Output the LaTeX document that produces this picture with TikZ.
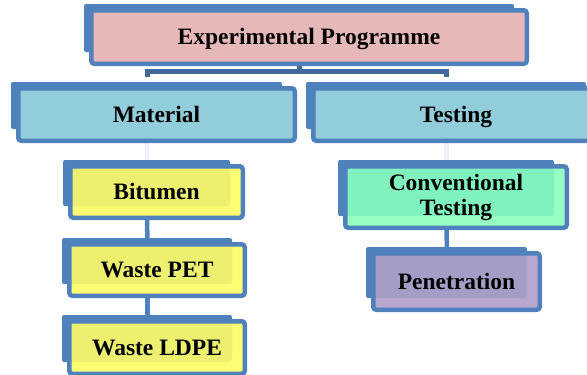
\documentclass[tikz,border=0pt]{standalone}
\usepackage{fontspec}
\setmainfont{Liberation Serif}
\usetikzlibrary{backgrounds}

\definecolor{cardblue}{HTML}{4F81BD}
\definecolor{barblue}{HTML}{41699B}
\definecolor{pinkfill}{HTML}{E6B8B7}
\definecolor{bluefill}{HTML}{92CDDC}
\definecolor{yellowfill}{HTML}{ECF06E}
\definecolor{yellowlight}{HTML}{FDFD74}
\definecolor{greenfill}{HTML}{80F2BE}
\definecolor{greenlight}{HTML}{98FFC2}
\definecolor{purplefill}{HTML}{A69DC6}
\definecolor{purplelight}{HTML}{B9A9CF}

\newcommand{\cardfont}{\fontsize{23.5}{25}\selectfont\bfseries}

\tikzstyle{card}=[rectangle,draw=cardblue,line width=4.5pt,rounded corners=3pt,inner sep=0pt,align=center,font=\cardfont]
\tikzstyle{oneline}=[text height=15.5pt,text depth=0pt]
\tikzstyle{link}=[line width=4.5pt,draw=cardblue]
\tikzstyle{bar}=[line width=5pt,draw=barblue]
\tikzset{tinted/.style={path picture={\fill[#1] (path picture bounding box.north west) rectangle ([shift={(-12.75pt,11.75pt)}]path picture bounding box.south east);}}}

\begin{document}
\begin{tikzpicture}[x=1pt,y=-1pt]
	\useasboundingbox (0,0) rectangle (587,375);

	% Boxes
	\node[card,oneline,fill=pinkfill,minimum width=435.5pt,minimum height=53.5pt] (prog) at (309,37) {Experimental Programme};

	\node[card,oneline,fill=bluefill,minimum width=276.5pt,minimum height=52.5pt] (mat) at (156.5,114.5) {Material};
	\node[card,oneline,fill=bluefill,minimum width=285.5pt,minimum height=52.5pt] (test) at (456,114.5) {Testing};

	\node[card,oneline,fill=yellowlight,tinted=yellowfill,minimum width=172.5pt,minimum height=51.5pt] (bit) at (156.5,192) {Bitumen};
	\node[card,oneline,fill=yellowlight,tinted=yellowfill,minimum width=175.5pt,minimum height=51.5pt] (pet) at (157,270) {Waste PET};
	\node[card,oneline,fill=yellowlight,tinted=yellowfill,minimum width=175.5pt,minimum height=52.5pt] (ldpe) at (157,347.5) {Waste LDPE};

	\node[card,fill=greenlight,tinted=greenfill,minimum width=221.5pt,minimum height=61.5pt] (conv) at (456,197) {Conventional\\Testing};
	\node[card,oneline,fill=purplelight,tinted=purplefill,minimum width=166.5pt,minimum height=56.5pt] (pen) at (456.5,281.5) {Penetration};

	\begin{scope}[on background layer]
		% Links
		\coordinate (matin) at (147,77);
		\coordinate (testin) at (446.5,77);
		\draw[bar] ([xshift=-9.5pt]prog.south) -- ++(0,5) coordinate (barmid);
		\draw[bar] (matin) |- (barmid) -| (testin);

		\draw[link,draw=cardblue!10] ([xshift=-9.5pt]mat.south) -- ([xshift=-9.5pt]bit.north);
		\draw[link,draw=cardblue!10] ([xshift=-9.5pt]test.south) -- ([xshift=-9.5pt]conv.north);
		\draw[link] ([xshift=-9.5pt]bit.south) -- ([xshift=-9.5pt]pet.north);
		\draw[link] ([xshift=-9.5pt]pet.south) -- ([xshift=-9.5pt]ldpe.north);
		\draw[link] ([xshift=-9.5pt]conv.south) -- ([xshift=-9.5pt]pen.north);

		% Shadows
		\foreach \n in {prog,mat,test,bit,pet,ldpe,conv,pen}
			\fill[cardblue,rounded corners=2pt] ([shift={(-5pt,4pt)}]\n.north west) rectangle ([shift={(-15pt,14pt)}]\n.south east);
	\end{scope}
\end{tikzpicture}
\end{document}
